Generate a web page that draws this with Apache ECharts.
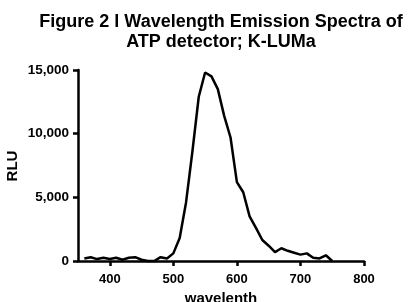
<!DOCTYPE html>
<html><head><meta charset="utf-8">
<script src="https://cdn.jsdelivr.net/npm/echarts@6/dist/echarts.min.js"></script>
<style>html,body{margin:0;padding:0;background:#fff}#c{width:410px;height:302px}</style>
</head><body><div id="c"></div>
<script>
const wavelengths = [360,370,380,390,400,410,420,430,440,450,460,470,480,490,500,510,520,530,540,550,560,570,580,590,600,610,620,630,640,650,660,670,680,690,700,710,720,730,740,750];
const rlu = [200,300,150,250,150,250,100,250,300,100,0,0,300,200,600,1800,4600,8600,12900,14800,14500,13500,11400,9700,6200,5400,3500,2600,1650,1200,700,1000,800,650,500,600,250,200,450,0];
const xTicks = [400,500,600,700,800];
const yTicks = [0,5000,10000,15000];
const titleLines = ['Figure 2 l Wavelength Emission Spectra of','ATP detector; K-LUMa'];
const yName = 'RLU';
const xName = 'wavelenth';

const chart = echarts.init(document.getElementById('c'), null, {renderer:'canvas'});
const font = 'Liberation Sans, Arial, sans-serif';
chart.setOption({
  animation:false,
  title:{text:titleLines.join('\n'), left:216, top:7, textAlign:'center',
    textStyle:{fontFamily:font,fontWeight:'bold',fontSize:18,color:'#000',lineHeight:20}},
  grid:{left:78,right:46,top:70,bottom:41,containLabel:false,outerBoundsMode:'none'},
  graphic:[{type:'text',x:13,y:166,rotation:Math.PI/2,
    style:{text:yName,fontFamily:font,fontWeight:'bold',fontSize:15,fill:'#000',align:'center',verticalAlign:'middle'}}],
  xAxis:{type:'value',min:350,max:800,
    name:xName,nameLocation:'middle',nameGap:29,
    nameTextStyle:{fontFamily:font,fontWeight:'bold',fontSize:15,color:'#000'},
    axisLine:{onZero:false,lineStyle:{color:'#000',width:2.5}},
    axisTick:{show:true,length:5,lineStyle:{color:'#000',width:2.5},customValues:xTicks},
    axisLabel:{customValues:xTicks,fontFamily:font,fontWeight:'bold',fontSize:13,color:'#000',margin:12},
    splitLine:{show:false}},
  yAxis:{type:'value',min:0,max:15000,
    axisLine:{show:true,lineStyle:{color:'#000',width:2.5}},
    axisTick:{show:true,length:5,lineStyle:{color:'#000',width:2.5},customValues:yTicks},
    axisLabel:{customValues:yTicks,fontFamily:font,fontWeight:'bold',fontSize:13.5,color:'#000',margin:9,
      formatter:v=>v.toLocaleString('en-US')},
    splitLine:{show:false}},
  series:[{type:'line',data:wavelengths.map((w,i)=>[w,rlu[i]]),showSymbol:false,
    lineStyle:{color:'#000',width:2.5},clip:false}]
});
</script></body></html>
